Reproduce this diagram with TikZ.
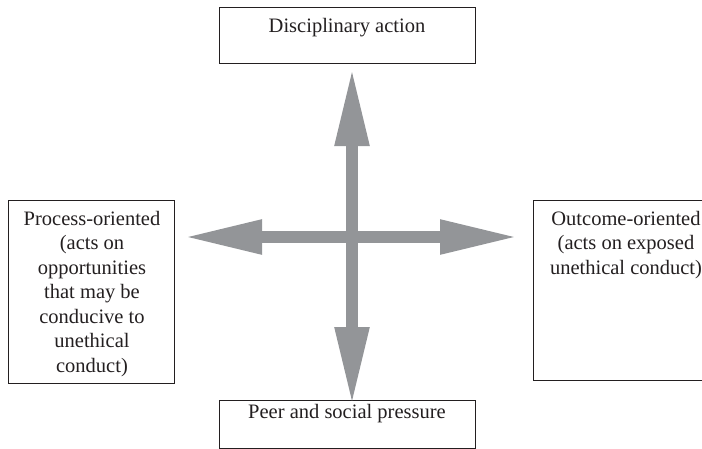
\documentclass[tikz,border=0pt]{standalone}
\usepackage{fontspec}
\setmainfont{Liberation Serif}
\usetikzlibrary{arrows.meta}
\definecolor{arrowgray}{RGB}{147,149,152}
\definecolor{inkc}{RGB}{35,31,32}
\begin{document}
\begin{tikzpicture}[x=1pt,y=-1pt,
  box/.style={draw=inkc, line width=0.8pt, inner sep=0pt, anchor=north west},
  txt/.style={text=inkc, inner sep=0pt, anchor=north, align=center,
    font=\fontsize{20.5}{24.5}\selectfont},
  headtip/.style={Triangle[length=78pt,width=32pt]},
  bigarrow/.style={draw=arrowgray, line width=11.5pt,
    arrows={Triangle[length=78pt,width=32pt]-Triangle[length=78pt,width=32pt]}}]
\useasboundingbox (0,0) rectangle (702,448);
\clip (0,0) rectangle (702,448);
% boxes
\node[box, minimum width=256pt, minimum height=56pt] (topbox) at (219,7) {};
\node[box, minimum width=256pt, minimum height=48pt] (botbox) at (219,400) {};
\node[box, minimum width=166pt, minimum height=183pt] (leftbox) at (8,200) {};
\node[box, minimum width=186pt, minimum height=180pt] (rightbox) at (533,200) {};
% texts
\node[txt] (toptxt) at (347,18) {Disciplinary action};
\node[txt] (bottxt) at (347,404) {Peer and social pressure};
\node[txt] (lefttxt) at (92,211) {Process-oriented\\(acts on\\opportunities\\that may be\\conducive to\\unethical\\conduct)};
\node[txt] (righttxt) at (626,211) {Outcome-oriented\\(acts on exposed\\unethical conduct)};
% arrows
\coordinate (c) at (352,237);
\coordinate (ttip) at (352,68);
\coordinate (btip) at (352,405);
\coordinate (ltip) at (184,237);
\coordinate (rtip) at (518,237);
\draw[bigarrow] (ltip) -- (rtip);
\draw[bigarrow] (ttip) -- (btip);
\end{tikzpicture}
\end{document}
